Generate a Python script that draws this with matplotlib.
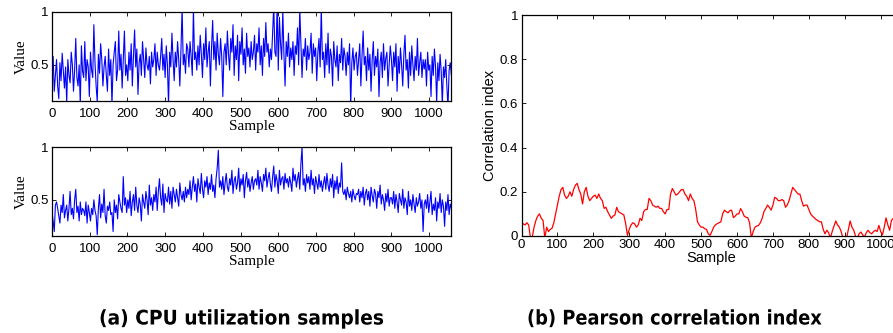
import numpy as np
import matplotlib
matplotlib.use("Agg")
import matplotlib.pyplot as plt
from matplotlib.patheffects import AbstractPathEffect
from matplotlib.transforms import Affine2D

# CPU utilization samples (in hundredths), one value every 3 samples
STEP = 3
cpu_a = [
    45, 58, 25, 40, 55, 30, 18, 52, 35, 61, 44, 28, 48, 14, 55, 40, 33, 62, 50, 25, 45, 75, 38, 30, 50, 12, 68, 44, 38, 72,
    35, 55, 48, 20, 62, 45, 38, 88, 52, 30, 15, 60, 42, 70, 55, 30, 48, 58, 40, 25, 65, 40, 55, 12, 50, 62, 72, 35, 45, 82,
    45, 60, 28, 55, 82, 40, 50, 35, 62, 45, 70, 30, 58, 83, 48, 65, 22, 52, 60, 40, 72, 55, 38, 66, 50, 45, 58, 32, 62, 48,
    55, 70, 40, 62, 50, 45, 58, 75, 45, 60, 38, 68, 50, 12, 62, 48, 80, 55, 35, 62, 48, 72, 55, 30, 65, 104, 50, 60, 42, 70,
    65, 48, 72, 58, 40, 103, 55, 62, 45, 68, 50, 78, 60, 38, 70, 55, 85, 48, 62, 72, 30, 66, 92, 55, 72, 45, 80, 60, 50, 75,
    58, 20, 62, 70, 50, 82, 60, 45, 75, 62, 88, 40, 68, 55, 78, 35, 72, 60, 85, 50, 65, 42, 80, 58, 66, 48, 72, 55, 62, 78,
    45, 70, 62, 85, 50, 68, 40, 75, 58, 90, 62, 70, 48, 65, 55, 80, 106, 62, 58, 108, 45, 95, 70, 55, 102, 60, 30, 72, 58, 80,
    48, 66, 55, 72, 40, 68, 60, 85, 50, 103, 72, 38, 65, 58, 75, 45, 68, 55, 62, 80, 42, 70, 58, 66, 35, 62, 75, 48, 104, 55,
    62, 38, 70, 50, 80, 42, 65, 58, 30, 72, 55, 48, 68, 35, 60, 52, 75, 45, 66, 58, 40, 62, 50, 70, 10, 52, 66, 45, 58, 62,
    40, 55, 70, 30, 58, 82, 50, 58, 35, 66, 45, 60, 25, 55, 72, 40, 58, 48, 65, 20, 52, 62, 38, 70, 45, 56, 62, 30, 50, 68,
    55, 35, 62, 48, 70, 25, 58, 42, 66, 50, 30, 60, 78, 45, 55, 28, 62, 40, 68, 50, 35, 58, 45, 75, 40, 52, 62, 38, 55, 46,
    55, 30, 62, 45, 50, 20, 58, 40, 65, 48, 15, 52, 35, 60, 44, 12, 48, 38, 55, 30, 10, 45, 52, 40,
]
cpu_b = [
    38, 30, 20, 45, 48, 42, 35, 28, 45, 38, 55, 33, 40, 45, 30, 42, 58, 36, 42, 32, 50, 60, 38, 44, 30, 48, 36, 42, 40, 35,
    48, 28, 45, 38, 30, 42, 36, 50, 40, 35, 17, 42, 55, 33, 46, 38, 60, 35, 28, 44, 40, 48, 36, 38, 20, 50, 38, 45, 32, 55,
    48, 42, 38, 72, 45, 52, 38, 50, 42, 58, 35, 48, 55, 40, 62, 45, 38, 52, 46, 30, 55, 48, 42, 58, 50, 36, 64, 45, 52, 40,
    55, 48, 62, 40, 58, 70, 52, 45, 65, 38, 56, 50, 48, 62, 46, 58, 42, 62, 55, 48, 60, 52, 44, 66, 55, 50, 58, 48, 62, 52,
    60, 55, 68, 50, 62, 72, 58, 65, 48, 70, 62, 56, 75, 60, 52, 68, 62, 72, 55, 66, 60, 74, 58, 64, 52, 70, 80, 97, 62, 68,
    60, 72, 55, 66, 75, 62, 58, 70, 64, 78, 56, 68, 72, 60, 66, 80, 58, 70, 64, 74, 52, 68, 76, 62, 70, 58, 66, 72, 60, 68,
    70, 64, 78, 60, 72, 66, 58, 74, 68, 80, 62, 70, 76, 65, 58, 72, 82, 62, 74, 68, 56, 78, 64, 70, 72, 60, 75, 66, 70, 62,
    72, 66, 58, 80, 68, 74, 62, 70, 76, 60, 84, 100, 64, 70, 58, 74, 66, 72, 60, 78, 64, 70, 56, 72, 66, 60, 74, 62, 68, 58,
    66, 72, 60, 75, 64, 58, 70, 62, 74, 52, 68, 60, 72, 56, 66, 62, 85, 58, 55, 60, 50, 62, 56, 52, 58, 48, 60, 54, 50, 56,
    55, 60, 48, 58, 52, 62, 45, 56, 60, 50, 58, 44, 62, 54, 48, 60, 56, 42, 58, 52, 64, 46, 55, 50, 40, 56, 48, 60, 44, 52,
    52, 46, 58, 42, 55, 48, 38, 56, 50, 45, 60, 42, 52, 48, 36, 58, 44, 50, 40, 55, 46, 38, 52, 44, 48, 56, 42, 50, 20, 46,
    50, 42, 55, 38, 48, 58, 36, 46, 40, 52, 30, 48, 42, 56, 38, 50, 44, 25, 48, 40, 55, 36, 46, 42,
]

# Pearson correlation index, one value every 5 samples
CORR_STEP = 5
corr = [
    .05, .055, .05, .06, .05, -.01, -.005, .04, .07, .09, .10, .08, .07, -.01, .04, .02, .03, .035, .06, .10,
    .14, .18, .21, .22, .185, .17, .18, .20, .18, .21, .23, .238, .21, .19, .145, .20, .22, .18, .16, .17,
    .18, .185, .17, .19, .17, .16, .125, .13, .11, .095, .08, .09, .095, .13, .11, .105, .10, .095, .056, .003,
    .03, .05, .06, .055, .04, .05, .08, .07, .11, .12, .12, .17, .16, .14, .135, .13, .135, .125, .125, .11,
    .10, .12, .12, .19, .215, .20, .185, .19, .20, .21, .21, .19, .18, .16, .19, .17, .16, .12, .064, .05,
    .04, .04, .033, .03, .01, .003, .02, .04, .05, .056, .06, .064, .10, .117, .11, .105, .115, .117, .083, .09,
    .10, .10, .124, .11, .09, .085, .083, .06, -.01, .02, .04, .045, .048, .06, .08, .11, .124, .14, .13, .117,
    .14, .175, .17, .16, .16, .165, .16, .13, .14, .16, .19, .22, .21, .20, .19, .19, .16, .135, .14, .14,
    .12, .10, .09, .083, .075, .07, .064, .064, .03, .01, .026, .015, -.01, .02, .045, .068, .05, .04, .02, -.01,
    -.02, -.01, .03, .068, .04, .026, .00, -.01, .01, .018, .005, -.005, .015, .026, .015, .01, .02, .026, .02, .048,
    .02, .005, .04, .082, .05, .026, .07, .08, .06, .05, .07, .06,
]

xticks = list(range(0, 1001, 100))

W, H = 893, 333
fig = plt.figure(figsize=(W / 100, H / 100), dpi=100)

sans_font = {"family": "Liberation Sans", "size": 10.5}
serif_font = {"family": "Liberation Serif", "size": 11}


def style_axes(ax):
    ax.tick_params(direction="in", length=3, width=0.6, top=True, right=True,
                   labelsize=9.5, pad=2.5)
    for lab in ax.get_xticklabels() + ax.get_yticklabels():
        lab.set_family("Liberation Sans")
    for s in ax.spines.values():
        s.set_linewidth(0.9)


def cpu_panel(rect, values):
    ax = fig.add_axes(rect)
    x = np.arange(len(values)) * STEP
    ax.plot(x, np.array(values) / 100.0, color="#0000ff", lw=0.8)
    ax.set_xlim(0, 1058)
    ax.set_ylim(0.158, 1)
    ax.set_xticks(xticks)
    ax.set_yticks([0.5, 1])
    ax.set_yticklabels(["0.5", "1"])
    style_axes(ax)
    ax.tick_params(axis="x", pad=5)
    ax.set_xlabel("Sample", fontdict=serif_font, labelpad=0)
    ax.set_ylabel("Value", fontdict=serif_font, labelpad=2)
    return ax


cpu_panel([52 / W, 1 - 101 / H, 399 / W, 89 / H], cpu_a)
cpu_panel([52 / W, 1 - 236 / H, 399 / W, 89 / H], cpu_b)

ax = fig.add_axes([521.5 / W, 1 - 236 / H, 380 / W, 221 / H])
xc = np.arange(len(corr)) * CORR_STEP
ax.plot(xc, corr, color="#ff0000", lw=0.9)
ax.set_xlim(0, 1058)
ax.set_ylim(0, 1)
ax.set_xticks(xticks)
ax.set_yticks([0, 0.2, 0.4, 0.6, 0.8, 1])
ax.set_yticklabels(["0", "0.2", "0.4", "0.6", "0.8", "1"])
style_axes(ax)
ax.set_xlabel("Sample", fontdict=sans_font, labelpad=0)
ax.set_ylabel("Correlation index", fontdict=sans_font, labelpad=2)


# slightly narrow bold captions: squeeze the glyphs horizontally (text stays text)
class Squeeze(AbstractPathEffect):
    def __init__(self, sx):
        super().__init__()
        self.sx = sx

    def draw_path(self, renderer, gc, tpath, affine, rgbFace=None):
        renderer.draw_path(gc, tpath, Affine2D().scale(self.sx, 1) + affine, rgbFace)


cap = dict(family="DejaVu Sans", weight="bold", size=14.5, ha="left", va="center")
captions = [("(a) CPU utilization samples", 99, 286),
            ("(b) Pearson correlation index", 527, 296)]
texts = [fig.text(x0 / W, 1 - 319 / H, s, **cap) for s, x0, _ in captions]
fig.canvas.draw()
for t, (_, _, width) in zip(texts, captions):
    t.set_path_effects([Squeeze(width / t.get_window_extent().width)])

fig.savefig("out.png", dpi=100)
